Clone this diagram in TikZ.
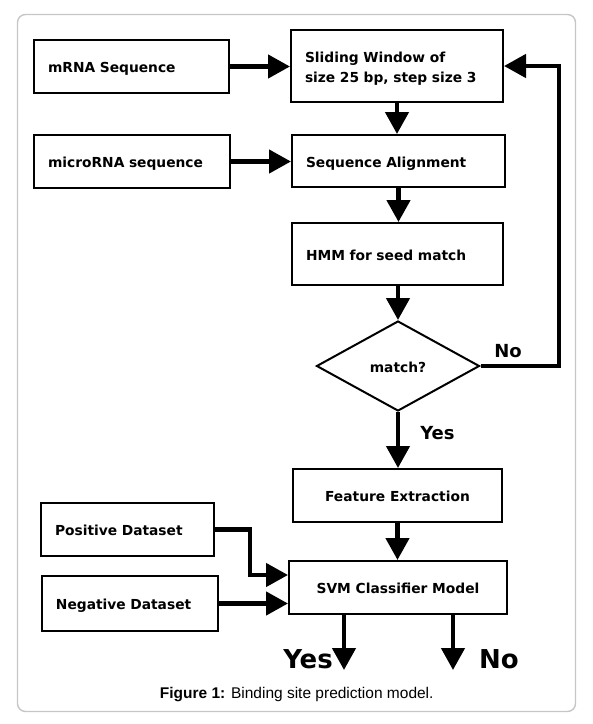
\documentclass[tikz,border=0pt]{standalone}
\usepackage{fontspec}
\setmainfont{DejaVu Sans}
\newfontfamily\capfont{Liberation Sans}
\usetikzlibrary{shapes.geometric,arrows.meta}

\begin{document}
\begin{tikzpicture}[x=1pt,y=-1pt,
  blk/.style={draw,line width=2.4pt,inner xsep=13.8pt,inner ysep=0pt,align=left,
    text height=12.4pt,text depth=0pt,font=\bfseries\fontsize{13.8}{20}\selectfont},
  cblk/.style={blk,align=center},
  arr/.style={line width=4.5pt,-{Triangle[length=22pt,width=23pt]}},
  lbl/.style={inner sep=0pt,font=\bfseries\fontsize{18}{20}\selectfont},
  big/.style={inner sep=0pt,font=\bfseries\fontsize{26}{28}\selectfont}]
 \useasboundingbox (0,0) rectangle (593,724);
 \draw[gray!45,line width=1.4pt,rounded corners=8pt] (17.5,14.5) rectangle (575.5,711.5); %枠

 \node[blk,text width=167pt,minimum height=52.6pt] (mrna) at (131.5,66.5) {mRNA Sequence};
 \node[blk,text width=184pt,text depth=20pt,minimum height=71.6pt] (sw) at (397,66) {Sliding Window of\\size 25 bp, step size 3};
 \node[blk,text width=168pt,minimum height=52.6pt] (mirna) at (132,161.5) {microRNA sequence};
 \node[blk,text width=185pt,minimum height=51.6pt] (aln) at (398.5,161) {Sequence Alignment};
 \node[blk,text width=183pt,minimum height=61.6pt] (hmm) at (397.5,254) {HMM for seed match};
 \node[diamond,draw,line width=2pt,aspect=1.8,minimum width=163pt,minimum height=90pt,inner sep=0pt,
   text height=12.4pt,text depth=0pt,font=\bfseries\fontsize{13.8}{16}\selectfont] (dm) at (398,366) {match?}; %判定
 \node[cblk,minimum width=208.6pt,minimum height=52.6pt] (feat) at (397.5,495.5) {Feature Extraction};
 \node[cblk,minimum width=217.6pt,minimum height=52.6pt] (svm) at (398,587.5) {SVM Classifier Model};
 \node[blk,text width=145pt,minimum height=52.6pt] (pos) at (127.5,529.5) {Positive Dataset};
 \node[blk,text width=148pt,minimum height=54.6pt] (neg) at (130,603.5) {Negative Dataset};

 \coordinate (fb) at (559,366); %戻り
 \coordinate (pk) at (250,575);
 \coordinate (yo) at (344,670);
 \coordinate (nd) at (453,670);

 \draw[arr] (mrna.east) -- (mrna.east -| sw.west);
 \draw[arr] (sw.south) -- (sw.south |- aln.north);
 \draw[arr] (mirna.east) -- (mirna.east -| aln.west);
 \draw[arr] (aln.south) -- (aln.south |- hmm.north);
 \draw[arr] (hmm.south -| dm.north) -- (dm.north);
 \draw[arr] (dm.east) -- (fb) |- (sw.east);
 \draw[arr] (dm.south) -- (dm.south |- feat.north);
 \draw[arr] (feat.south) -- (feat.south |- svm.north);
 \draw[arr] (pos.east) -| (pk) -- (pk -| svm.west);
 \draw[arr] (neg.east) -- (neg.east -| svm.west);
 \draw[arr] (yo |- svm.south) -- (yo); %出力
 \draw[arr] (nd |- svm.south) -- (nd);

 \node[lbl] (no1) at (508,351) {No};
 \node[lbl] (yes1) at (437.5,433) {Yes};
 \node[big,anchor=east] (yes2) at (333,659) {Yes};
 \node[big,anchor=west] (no2) at (479,659) {No};

 \node[font=\capfont\fontsize{15.5}{18}\selectfont] (cap) at (296.7,695)
   {\textbf{Figure 1:} Binding site prediction model.}; %図の説明
\end{tikzpicture}
\end{document}
